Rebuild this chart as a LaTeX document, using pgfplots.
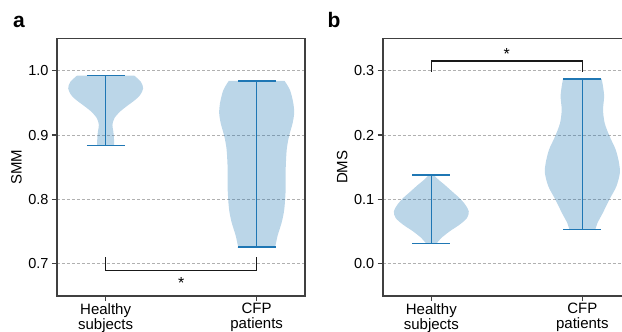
\documentclass[border=0pt]{standalone}
\usepackage{pgfplots}
\pgfplotsset{compat=1.18}
\usepackage{pgfplotstable}
\usepackage{fontspec}
\setmainfont{Liberation Sans}
\definecolor{c0}{HTML}{1F77B4}
\definecolor{spine}{HTML}{404040}
\definecolor{gridc}{HTML}{B0B0B0}

% violin outlines: s = side (-1 left, +1 right), v = value, w = half width
\pgfplotstableread{
s v w
-1 0.9923 0.190
-1 0.9825 0.234
-1 0.9723 0.248
-1 0.9620 0.228
-1 0.9543 0.194
-1 0.9466 0.150
-1 0.9364 0.095
-1 0.9261 0.058
-1 0.9158 0.045
-1 0.9056 0.051
-1 0.8953 0.055
-1 0.8840 0.056
-1 0.8840 0.046
1 0.8840 0.046
1 0.8840 0.056
1 0.8953 0.055
1 0.9056 0.051
1 0.9158 0.045
1 0.9261 0.058
1 0.9364 0.095
1 0.9466 0.150
1 0.9543 0.194
1 0.9620 0.228
1 0.9723 0.248
1 0.9825 0.234
1 0.9923 0.190
}\aH
\pgfplotstableread{
s v w
-1 0.9840 0.185
-1 0.9697 0.221
-1 0.9492 0.243
-1 0.9338 0.248
-1 0.9184 0.238
-1 0.8979 0.214
-1 0.8774 0.199
-1 0.8466 0.192
-1 0.8158 0.192
-1 0.7851 0.183
-1 0.7646 0.166
-1 0.7440 0.139
-1 0.7261 0.122
-1 0.7261 0.112
1 0.7261 0.112
1 0.7261 0.122
1 0.7440 0.139
1 0.7646 0.166
1 0.7851 0.183
1 0.8158 0.192
1 0.8466 0.192
1 0.8774 0.199
1 0.8979 0.214
1 0.9184 0.238
1 0.9338 0.248
1 0.9492 0.243
1 0.9697 0.221
1 0.9840 0.185
}\aC
\pgfplotstableread{
s v w
-1 0.1383 0.015
-1 0.1305 0.048
-1 0.1228 0.088
-1 0.1125 0.137
-1 0.1021 0.187
-1 0.0918 0.225
-1 0.0814 0.248
-1 0.0711 0.236
-1 0.0608 0.187
-1 0.0504 0.121
-1 0.0401 0.066
-1 0.0313 0.033
-1 0.0313 0.023
1 0.0313 0.023
1 0.0313 0.033
1 0.0401 0.066
1 0.0504 0.121
1 0.0608 0.187
1 0.0711 0.236
1 0.0814 0.248
1 0.0918 0.225
1 0.1021 0.187
1 0.1125 0.137
1 0.1228 0.088
1 0.1305 0.048
1 0.1383 0.015
}\bH
\pgfplotstableread{
s v w
-1 0.2871 0.128
-1 0.2752 0.137
-1 0.2597 0.144
-1 0.2391 0.137
-1 0.2184 0.148
-1 0.1977 0.181
-1 0.1771 0.221
-1 0.1564 0.243
-1 0.1409 0.248
-1 0.1202 0.225
-1 0.0995 0.178
-1 0.0789 0.135
-1 0.0634 0.100
-1 0.0530 0.085
-1 0.0530 0.075
1 0.0530 0.075
1 0.0530 0.085
1 0.0634 0.100
1 0.0789 0.135
1 0.0995 0.178
1 0.1202 0.225
1 0.1409 0.248
1 0.1564 0.243
1 0.1771 0.221
1 0.1977 0.181
1 0.2184 0.148
1 0.2391 0.137
1 0.2597 0.144
1 0.2752 0.137
1 0.2871 0.128
}\bC

\pgfplotsset{
 violinax/.style={
   scale only axis, width=248pt, height=257.5pt,
   xmin=0.678, xmax=2.32,
   xtick={1,2}, xticklabels={{Healthy\\subjects},{CFP\\patients}},
   xticklabel style={align=center, font=\fontsize{15}{15}\selectfont, inner sep=0pt, yshift=-2pt},
   yticklabel style={font=\fontsize{14.5}{14.5}\selectfont, /pgf/number format/fixed, /pgf/number format/precision=1, /pgf/number format/fixed zerofill},
   /pgf/number format/assume math mode=true,
   tick align=outside, major tick length=5pt, tick pos=left,
   axis line style={spine, line width=1.8pt},
   every tick/.style={spine, line width=1.3pt},
   ymajorgrids, grid style={gridc, dash pattern=on 3pt off 2pt, line width=0.8pt},
   every axis y label/.style={at={(axis description cs:-0.163,0.5)}, rotate=90, anchor=center, font=\fontsize{15}{15}\selectfont},
 },
 vfill/.style={fill=c0, fill opacity=0.3, draw=none, smooth},
 vline/.style={c0, line width=1.6pt},
 brk/.style={black!90, line width=1.4pt},
}

\begin{document}
\begin{tikzpicture}
\begin{axis}[violinax, at={(57pt,36pt)}, anchor=south west,
  ymin=0.65, ymax=1.05, ytick={0.7,0.8,0.9,1.0}, ylabel={SMM}]
 \addplot[vfill] table[x expr=1+\thisrow{s}*\thisrow{w}, y=v]{\aH};
 \addplot[vfill] table[x expr=2+\thisrow{s}*\thisrow{w}, y=v]{\aC};
 \addplot[vline] coordinates {(1,0.884) (1,0.9923)};
 \addplot[vline] coordinates {(0.875,0.9923) (1.125,0.9923)};
 \addplot[vline] coordinates {(0.875,0.884) (1.125,0.884)};
 \addplot[vline] coordinates {(2,0.7261) (2,0.984)};
 \addplot[vline] coordinates {(1.875,0.984) (2.125,0.984)};
 \addplot[vline] coordinates {(1.875,0.7261) (2.125,0.7261)};
 \addplot[brk] coordinates {(1,0.71) (1,0.69) (2,0.69) (2,0.71)};
 \node[anchor=base, inner sep=0pt, font=\fontsize{16}{16}\selectfont] at (axis cs:1.5,0.662) {*};
\end{axis}
\begin{axis}[violinax, at={(382.7pt,36pt)}, anchor=south west,
  ymin=-0.05, ymax=0.35, ytick={0,0.1,0.2,0.3}, ylabel={DMS}]
 \addplot[vfill] table[x expr=1+\thisrow{s}*\thisrow{w}, y=v]{\bH};
 \addplot[vfill] table[x expr=2+\thisrow{s}*\thisrow{w}, y=v]{\bC};
 \addplot[vline] coordinates {(1,0.0313) (1,0.1383)};
 \addplot[vline] coordinates {(0.875,0.1383) (1.125,0.1383)};
 \addplot[vline] coordinates {(0.875,0.0313) (1.125,0.0313)};
 \addplot[vline] coordinates {(2,0.053) (2,0.2871)};
 \addplot[vline] coordinates {(1.875,0.2871) (2.125,0.2871)};
 \addplot[vline] coordinates {(1.875,0.053) (2.125,0.053)};
 \addplot[brk] coordinates {(1,0.298) (1,0.315) (2,0.315) (2,0.298)};
 \node[anchor=base, inner sep=0pt, font=\fontsize{16}{16}\selectfont] at (axis cs:1.5,0.317) {*};
\end{axis}
\node[anchor=base west, inner sep=0pt, font=\fontsize{21}{21}\selectfont\bfseries] at (13pt,304pt) {a};
\node[anchor=base west, inner sep=0pt, font=\fontsize{21}{21}\selectfont\bfseries] at (327.5pt,304.5pt) {b};
\pgfresetboundingbox
\clip (0pt,0pt) rectangle (622pt,332pt);
\end{tikzpicture}
\end{document}
